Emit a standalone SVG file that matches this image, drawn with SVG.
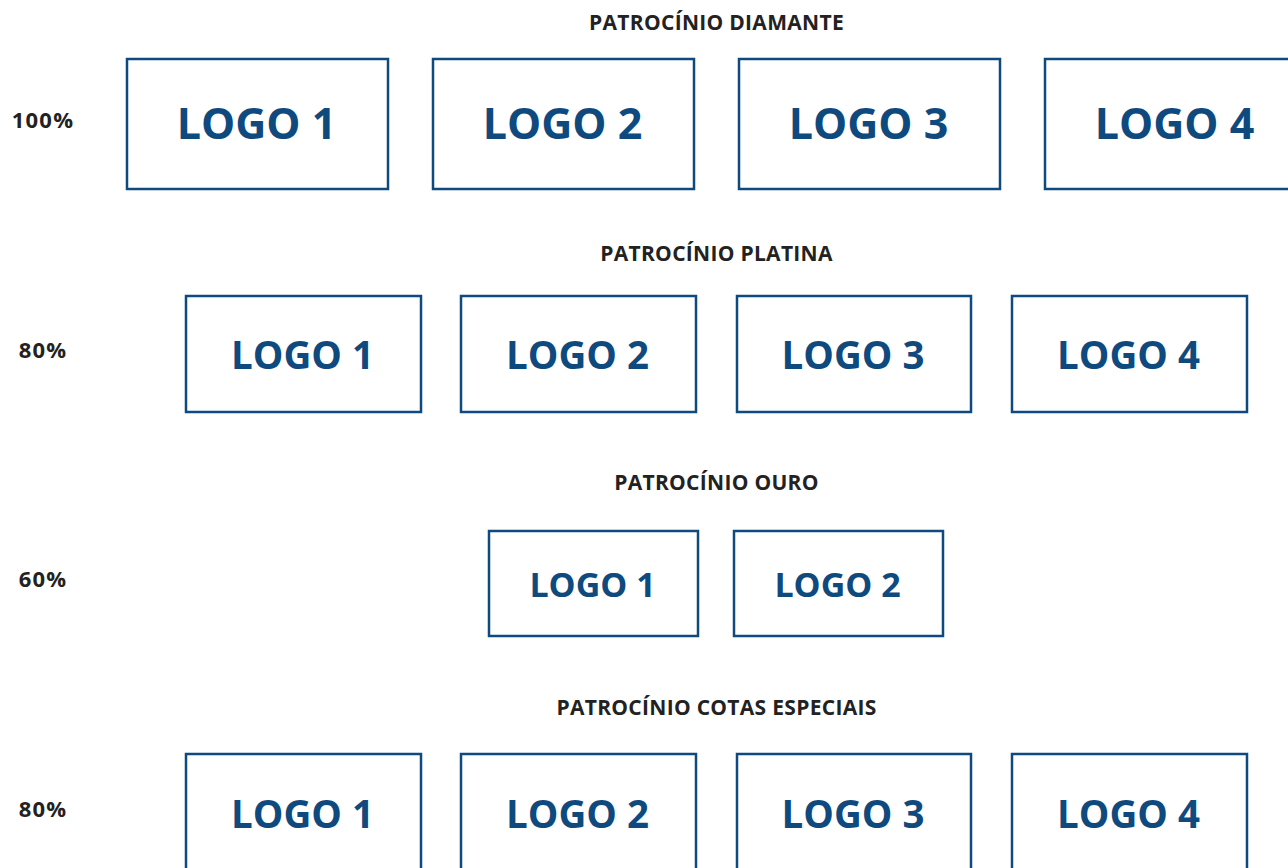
<svg xmlns="http://www.w3.org/2000/svg" width="1288" height="868" viewBox="0 0 1288 868">
<style>
.box{fill:#fff;stroke:#0f4a7f;stroke-width:2.5}
.logo{font-family:"Open Sans","Noto Sans",sans-serif;font-weight:700;fill:#0f4a7f;text-anchor:middle}
.l1{font-size:43px}
.l2{font-size:38.5px}
.l3{font-size:34px}
.hd{font-family:"Open Sans","Noto Sans",sans-serif;font-weight:700;font-size:21px;letter-spacing:0.3px;fill:#222;text-anchor:middle}
.pc{font-family:"Open Sans","Noto Sans",sans-serif;font-weight:700;font-size:22px;letter-spacing:1.2px;fill:#222;text-anchor:middle}
</style>
<rect width="1288" height="868" fill="#fff"/>
<g id="labels">
<text class="hd" x="716.5" y="30">PATROCÍNIO DIAMANTE</text>
<text class="hd" x="716.5" y="261">PATROCÍNIO PLATINA</text>
<text class="hd" x="716.5" y="490">PATROCÍNIO OURO</text>
<text class="hd" x="716.5" y="715">PATROCÍNIO COTAS ESPECIAIS</text>
<text class="pc" x="43" y="128">100%</text>
<text class="pc" x="43" y="358">80%</text>
<text class="pc" x="43" y="587">60%</text>
<text class="pc" x="43" y="817">80%</text>
</g>
<g id="diamante-1"><rect class="box" x="127" y="59" width="261" height="130"/><text class="logo l1" x="256.5" y="139">LOGO 1</text></g>
<g id="diamante-2"><rect class="box" x="433" y="59" width="261" height="130"/><text class="logo l1" x="562.5" y="139">LOGO 2</text></g>
<g id="diamante-3"><rect class="box" x="739" y="59" width="261" height="130"/><text class="logo l1" x="868.5" y="139">LOGO 3</text></g>
<g id="diamante-4"><rect class="box" x="1045" y="59" width="261" height="130"/><text class="logo l1" x="1174.5" y="139">LOGO 4</text></g>
<g id="platina-1"><rect class="box" x="186" y="296" width="235" height="116"/><text class="logo l2" x="302.5" y="369">LOGO 1</text></g>
<g id="platina-2"><rect class="box" x="461" y="296" width="235" height="116"/><text class="logo l2" x="577.5" y="369">LOGO 2</text></g>
<g id="platina-3"><rect class="box" x="737" y="296" width="234" height="116"/><text class="logo l2" x="853" y="369">LOGO 3</text></g>
<g id="platina-4"><rect class="box" x="1012" y="296" width="235" height="116"/><text class="logo l2" x="1128.5" y="369">LOGO 4</text></g>
<g id="ouro-1"><rect class="box" x="489" y="531" width="209" height="105"/><text class="logo l3" x="592.5" y="597">LOGO 1</text></g>
<g id="ouro-2"><rect class="box" x="734" y="531" width="209" height="105"/><text class="logo l3" x="837.5" y="597">LOGO 2</text></g>
<g id="especiais-1"><rect class="box" x="186" y="754" width="235" height="130"/><text class="logo l2" x="302.5" y="828">LOGO 1</text></g>
<g id="especiais-2"><rect class="box" x="461" y="754" width="235" height="130"/><text class="logo l2" x="577.5" y="828">LOGO 2</text></g>
<g id="especiais-3"><rect class="box" x="737" y="754" width="234" height="130"/><text class="logo l2" x="853" y="828">LOGO 3</text></g>
<g id="especiais-4"><rect class="box" x="1012" y="754" width="235" height="130"/><text class="logo l2" x="1128.5" y="828">LOGO 4</text></g>
<g id="connectors"/>
</svg>
